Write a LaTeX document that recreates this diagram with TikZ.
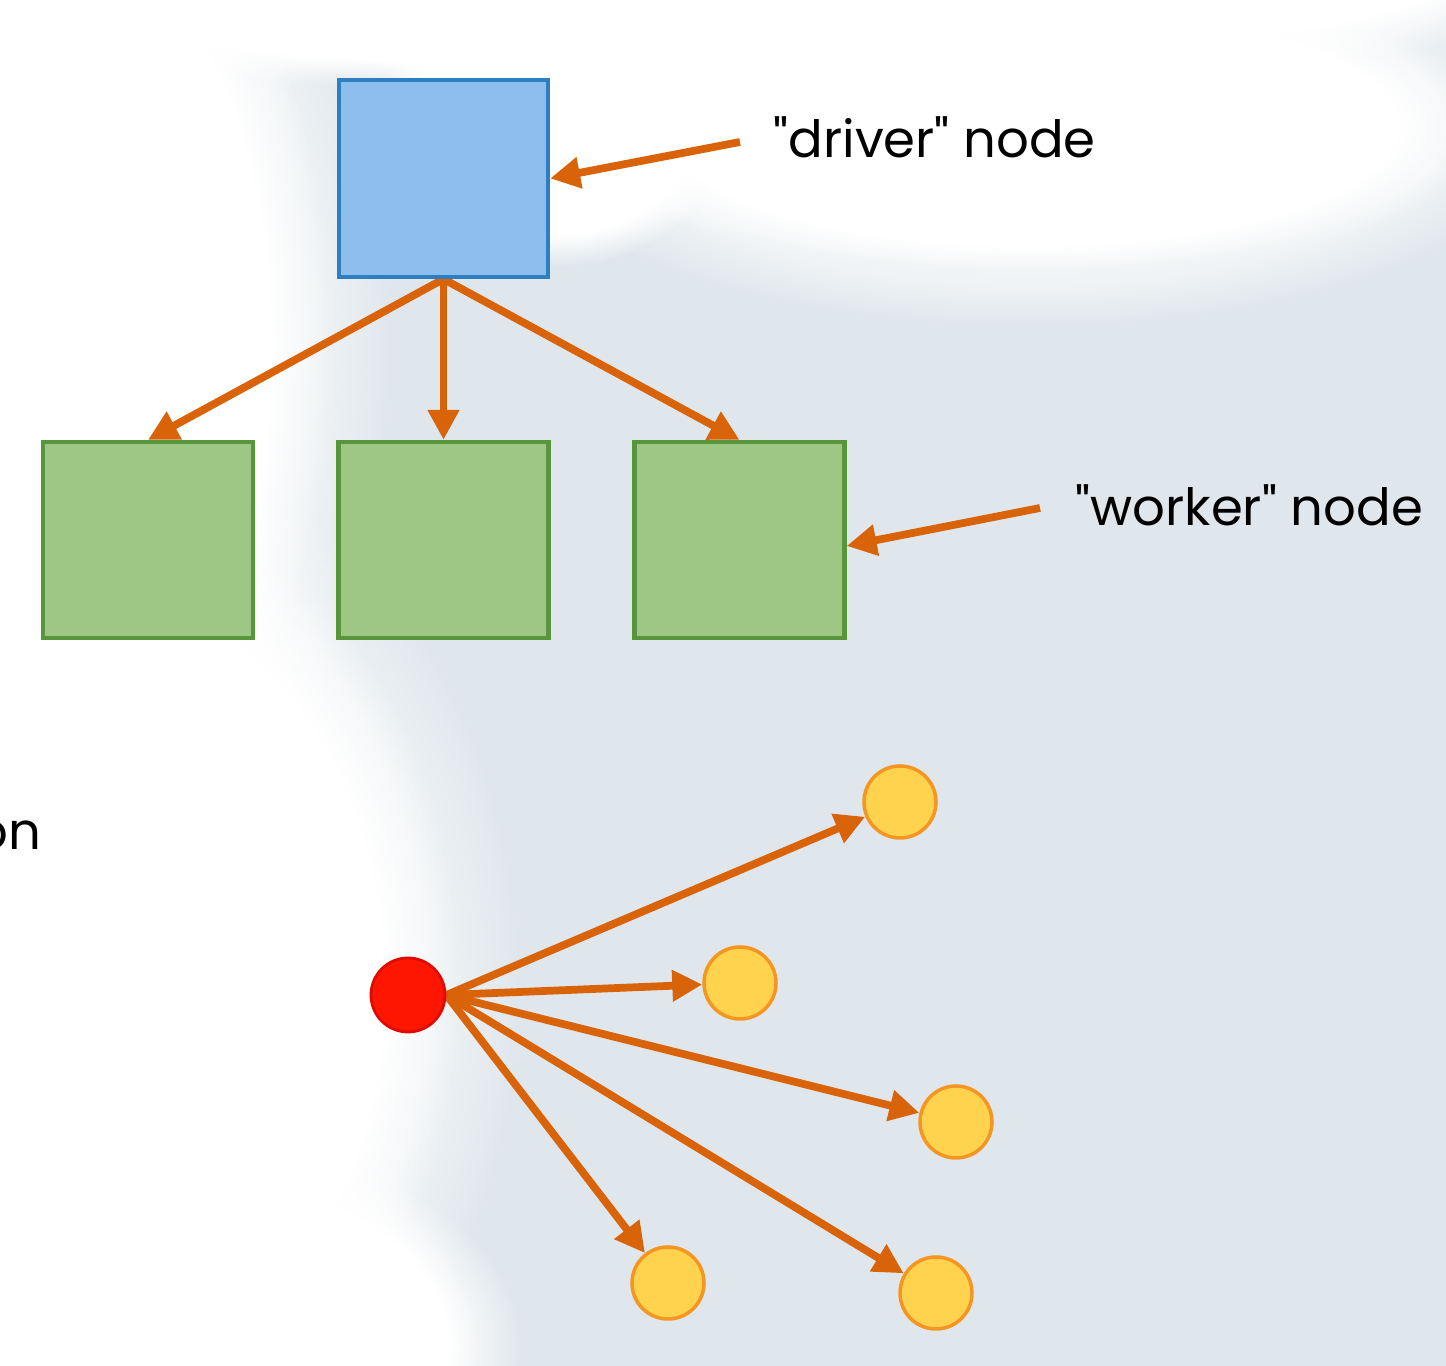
\documentclass[tikz,border=0pt]{standalone}
\usepackage{fontspec}
\setmainfont{Poppins}
\usepackage{tikz}
\usetikzlibrary{arrows.meta,fadings,backgrounds}
\definecolor{arrorange}{RGB}{217,99,8}
\definecolor{dblue}{RGB}{142,190,236}
\definecolor{dblueline}{RGB}{46,126,194}
\definecolor{wgreen}{RGB}{158,199,133}
\definecolor{wgreenline}{RGB}{88,150,60}
\definecolor{leafyellow}{RGB}{255,211,77}
\definecolor{leafline}{RGB}{245,150,35}
\definecolor{rootred}{RGB}{255,22,0}
\definecolor{rootline}{RGB}{225,10,0}
\definecolor{bgblue}{RGB}{224,231,236}
\pgfdeclarelayer{bglayer}
\pgfdeclarelayer{edgelayer}
\pgfdeclarelayer{nodelayer}
\pgfsetlayers{bglayer,edgelayer,nodelayer,main}
\tikzstyle{driver}=[rectangle,fill=dblue,draw=dblueline,line width=1.2pt,minimum width=2.09cm,minimum height=1.97cm]
\tikzstyle{worker}=[rectangle,fill=wgreen,draw=wgreenline,line width=1.2pt,minimum width=2.10cm,minimum height=1.96cm]
\tikzstyle{root}=[circle,fill=rootred,draw=rootline,line width=0.8pt,minimum size=0.74cm,inner sep=0pt]
\tikzstyle{leaf}=[circle,fill=leafyellow,draw=leafline,line width=1pt,minimum size=0.72cm,inner sep=0pt]
\tikzstyle{label}=[inner sep=0pt,font=\fontsize{14.6}{18}\selectfont]
\tikzstyle{inarrow}=[-{Triangle[length=0.30cm,width=0.30cm]},draw=arrorange,line width=2.2pt]
\tikzstyle{whiteblob}=[fill=white,path fading=circle with fuzzy edge 20 percent]
\tikzstyle{whitehalo}=[fill=white,fill opacity=0.5,path fading=circle with fuzzy edge 20 percent]

\begin{document}
\begin{tikzpicture}
	\useasboundingbox (0, 0) rectangle (14.46, 13.66);
	\begin{pgfonlayer}{bglayer}
		\clip (0, 0) rectangle (14.46, 13.66);
		\fill [bgblue] (0, 0) rectangle (14.46, 13.66);
		\fill [style=whitehalo] (0.3, 10.2) ellipse (3.6 and 6.2);
		\fill [style=whitehalo] (0.8, 3.8) ellipse (4.4 and 5.6);
		\fill [style=whitehalo] (10.3, 12.4) ellipse (5.2 and 2.0);
		\fill [style=whiteblob] (0.3, 10.2) ellipse (3.0 and 5.5);
		\fill [style=whiteblob] (0.8, 3.8) ellipse (3.8 and 5.0);
		\fill [style=whiteblob] (1.6, 0.2) ellipse (3.6 and 2.2);
		\fill [style=whiteblob] (7.0, 14.0) ellipse (9.5 and 1.3);
		\fill [style=whiteblob] (10.3, 12.4) ellipse (4.6 and 1.5);
		\fill [style=whiteblob] (5.6, 12.6) ellipse (1.8 and 1.6);
	\end{pgfonlayer}
	\begin{pgfonlayer}{nodelayer}
		\node [style=driver] (D) at (4.435, 11.875) {};
		\node [style=worker] (W1) at (1.48, 8.26) {};
		\node [style=worker] (W2) at (4.435, 8.26) {};
		\node [style=worker] (W3) at (7.395, 8.26) {};
		\node [style=label, anchor=west] (Dlab) at (7.73, 12.29) {\textquotedbl driver\textquotedbl{} node};
		\node [style=label, anchor=west] (Wlab) at (10.75, 8.61) {\textquotedbl worker\textquotedbl{} node};
		\node [style=label, anchor=east] (On) at (0.42, 5.31) {on};
		\coordinate (Dtail) at (7.40, 12.24);
		\coordinate (Wtail) at (10.40, 8.58);

		\node [style=root] (R) at (4.08, 3.71) {};
		\node [style=leaf] (L1) at (9.00, 5.64) {};
		\node [style=leaf] (L2) at (7.40, 3.83) {};
		\node [style=leaf] (L3) at (9.56, 2.44) {};
		\node [style=leaf] (L4) at (6.68, 0.83) {};
		\node [style=leaf] (L5) at (9.36, 0.73) {};
	\end{pgfonlayer}
	\begin{pgfonlayer}{edgelayer}
		\draw [style=inarrow] (D.south) to (W1.north);
		\draw [style=inarrow] (D.south) to (W2.north);
		\draw [style=inarrow] (D.south) to (W3.north);
		\draw [style=inarrow] (Dtail) to (D.east);
		\draw [style=inarrow] (Wtail) to ([yshift=-0.06cm]W3.east);
		\draw [style=inarrow] (R.east) to (L1);
		\draw [style=inarrow] (R.east) to (L2);
		\draw [style=inarrow] (R.east) to (L3);
		\draw [style=inarrow] (R.east) to (L4);
		\draw [style=inarrow] (R.east) to (L5);
	\end{pgfonlayer}
\end{tikzpicture}
\end{document}
